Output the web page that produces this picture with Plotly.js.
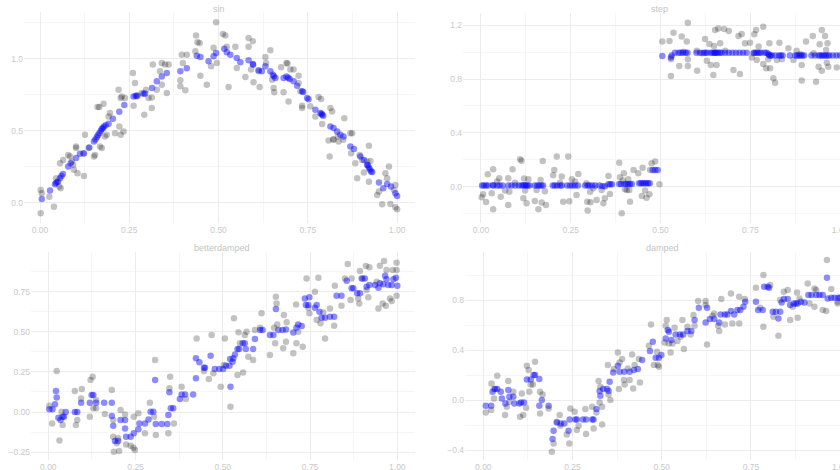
<!DOCTYPE html>
<html>
<head>
<meta charset="utf-8">
<script src="https://cdn.plot.ly/plotly-3.0.1.min.js"></script>
<style>
html,body{margin:0;padding:0;overflow:hidden;background:#fff;}
#chart{width:880px;height:470px;}
</style>
</head>
<body>
<div id="chart"></div>
<script>
// ---- panel titles ----
const panelTitles = ["sin", "step", "betterdamped", "damped"];

// ---- sin ----
const sinX = [.002,.002,.005,.026,.039,.045,.051,.054,.058,.056,.065,.079,.084,.089,.093,.095,.101,.101,.105,.121,.123,.126,.136,.151,.154,.161,.166,.168,.173,.178,.182,.187,.192,.196,.210,.220,.222,.226,.234,.226,.229,.238,.260,.262,.266,.271,.285,.292,.297,.304,.313,.313,.316,.327,.336,.341,.341,.350,.355,.360,.393,.393,.397,.400,.407,.411,.435,.437,.441,.447,.449,.467,.479,.486,.493,.495,.512,.519,.523,.528,.547,.551,.575,.584,.584,.591,.596,.598,.612,.615,.631,.633,.645,.650,.654,.656,.675,.682,.690,.693,.696,.701,.710,.724,.724,.729,.734,.734,.757,.771,.780,.787,.790,.808,.811,.813,.818,.821,.822,.834,.836,.849,.852,.869,.871,.874,.883,.888,.895,.902,.907,.916,.921,.921,.925,.944,.949,.958,.967,.972,.977,.981,.991,.995,.995,1.0];
const sinY = [.090,-.072,.067,.044,-.026,.172,.148,.114,.102,.276,.299,.334,.323,.288,.265,.230,.381,.392,.206,.346,.188,.473,.381,.323,.334,.666,.666,.392,.381,.689,.462,.473,.601,.624,.485,.787,.531,.473,.497,.729,.740,.729,.903,.675,.833,.740,.763,.613,.787,.729,.733,.659,.961,.787,.914,.972,.821,.961,.763,.961,.810,.852,1.030,.972,.782,1.030,1.053,1.162,1.116,1.111,.884,.821,.949,1.077,1.255,.972,1.174,1.162,1.084,.805,1.084,.937,.875,1.146,1.084,.926,1.123,.838,.914,.805,1.014,.972,1.060,.856,.798,.768,.942,.768,.972,.968,.705,.926,.926,.884,.833,.775,.675,.659,.671,.601,.736,.722,.548,.434,.323,.659,.636,.443,.439,.462,.427,.439,.589,.485,.346,.485,.276,.172,.334,.299,.211,.288,.148,.397,.292,.056,.079,-.009,.206,.172,.253,-.007,.090,.125,-.030,-.044];
const sinFitX = [.005,.028,.042,.045,.049,.056,.060,.064,.079,.086,.101,.112,.123,.138,.151,.155,.159,.162,.166,.170,.173,.176,.179,.184,.192,.204,.222,.236,.262,.268,.273,.290,.294,.314,.327,.341,.355,.393,.411,.439,.449,.472,.486,.493,.516,.523,.533,.551,.561,.584,.596,.597,.612,.621,.631,.645,.652,.655,.659,.682,.690,.695,.699,.710,.720,.734,.737,.748,.752,.771,.785,.788,.790,.793,.813,.822,.832,.841,.850,.869,.879,.897,.907,.916,.918,.921,.924,.927,.930,.949,.961,.972,.983,.995,1.0];
const sinFitY = [.028,.086,.130,.138,.148,.172,.187,.202,.253,.276,.313,.341,.343,.385,.427,.44,.457,.47,.485,.50,.513,.52,.531,.54,.550,.585,.633,.680,.740,.745,.747,.759,.76,.798,.845,.879,.903,.914,.935,1.023,1.014,.984,1.019,1.042,1.070,1.046,1.030,1.007,.977,.991,.965,.96,.921,.914,.949,.914,.891,.88,.868,.868,.879,.87,.861,.845,.814,.775,.77,.729,.72,.647,.624,.62,.613,.605,.531,.520,.497,.473,.462,.392,.374,.323,.299,.265,.26,.245,.232,.218,.215,.142,.102,.132,.114,.067,.049];

// ---- step ----
const stepX = [.002,.006,.014,.019,.030,.034,.034,.045,.051,.055,.067,.076,.076,.079,.088,.095,.109,.113,.118,.120,.123,.127,.132,.150,.155,.160,.166,.169,.172,.181,.178,.201,.204,.211,.220,.225,.229,.243,.246,.253,.262,.266,.271,.294,.296,.297,.304,.305,.313,.322,.336,.341,.345,.355,.359,.385,.387,.395,.398,.401,.392,.406,.410,.413,.415,.425,.438,.448,.450,.457,.461,.469,.471,.475,.485,.497,
  .505,.525,.529,.529,.536,.552,.559,.564,.573,.576,.576,.576,.601,.602,.615,.624,.629,.636,.640,.647,.649,.652,.656,.661,.666,.677,.680,.690,.703,.717,.721,.726,.735,.749,.754,.759,.761,.766,.768,.773,.786,.786,.794,.800,.803,.805,.814,.819,.824,.831,.838,.856,.870,.879,.889,.893,.893,.905,.924,.926,.933,.940,.943,.949,.949,.958,.961,.965,.963,.967,.991];
const stepY = [-.077,-.054,-.111,.094,-.047,.131,-.165,.040,.064,-.072,-.027,.064,-.133,-.035,.131,.032,.205,.195,-.084,.062,-.027,-.121,.057,-.104,-.022,-.165,.052,-.116,.193,-.133,-.032,.086,.126,.225,.032,.077,-.109,.225,-.106,.057,.040,-.059,.096,.027,-.109,-.175,-.035,-.114,-.010,-.096,-.022,-.121,-.084,.081,-.052,.180,.072,.047,.101,-.017,-.195,-.022,.057,-.022,-.109,.126,.101,-.067,.143,-.027,-.079,-.054,.126,.175,.188,.020,
  1.077,1.081,.946,.822,1.143,.896,1.114,1.002,1.077,.946,1.217,.896,1.010,.862,.990,1.096,.936,1.059,.904,.830,1.044,1.163,.904,1.175,1.064,1.170,1.010,1.156,.867,1.119,.837,1.133,1.064,1.069,.960,.990,1.131,1.163,.941,1.040,1.188,.911,.879,.946,1.064,.879,.805,.773,.941,1.069,.946,1.027,.941,1.010,.985,.904,.788,1.077,1.119,.990,.780,.891,1.057,1.163,.862,1.119,1.015,1.064,.921,.891,.886];
const stepFitX = [.003,.008,.014,.020,.033,.035,.045,.052,.060,.076,.085,.095,.105,.113,.118,.122,.126,.130,.135,.150,.157,.162,.168,.173,.200,.205,.212,.220,.225,.240,.248,.255,.262,.270,.290,.297,.302,.310,.318,.330,.338,.345,
  .355,.360,.365,.385,.390,.400,.405,.410,.415,.420,.440,.445,.450,.455,.460,.465,.470,.478,.485,.492,
  .505,.529,.531,.540,.550,.556,.562,.570,.575,.600,.610,.620,.625,.630,.640,.645,.650,.652,.655,.660,.665,.670,.680,.690,.700,.710,.720,.730,.740,.760,.765,.770,.775,.780,.790,.795,
  .800,.803,.806,.810,.820,.830,.835,.840,.860,.875,.880,.885,.890,.895,.900,.920,.930,.940,.945,.950,.955,.960,.965,.970,.980,.990,1.0];
const stepFitY = [.01,.01,.01,.01,.012,.01,.01,.01,.01,.01,.01,.01,.01,.01,.012,.012,.01,.01,.01,.01,.01,.01,.01,.01,.01,.01,.01,.01,.01,.01,.01,.01,.01,.01,.01,.01,.01,.01,.01,.01,.005,.005,
  .02,.02,.02,.022,.022,.022,.022,.022,.022,.022,.027,.027,.027,.027,.027,.027,.027,.125,.125,.125,
  .97,.96,.975,.995,.995,.995,.995,.995,.995,.995,.995,.995,.995,.995,.995,.995,.995,.995,.995,.995,.995,.995,.995,.995,.995,.995,.995,.995,.995,.995,.995,.995,.995,.995,.995,.995,
  .985,.975,.975,.975,.975,.975,.975,.975,.975,.975,.975,.975,.975,.975,.975,.975,.975,.975,.975,.975,.975,.975,.975,.975,.975,.975,.975];

// ---- betterdamped ----
const bdX = [.003,.011,.024,.032,.038,.041,.076,.079,.083,.094,.096,.119,.121,.127,.129,.137,.137,.162,.182,.186,.186,.188,.196,.200,.203,.207,.220,.223,.236,.244,.245,.248,.258,.277,.291,.303,.306,.308,.344,.347,.349,.360,.382,.394,.425,.446,.460,.468,.473,.494,.503,.506,.522,.532,.542,.545,.549,.558,.563,.568,.573,.587,.592,.607,.611,.635,.647,.650,.652,.654,.656,.673,.675,.681,.683,.702,.710,.711,.716,.729,.740,.745,.748,.764,.769,.774,.780,.788,.793,.807,.819,.821,.840,.850,.858,.866,.869,.888,.891,.893,.901,.910,.912,.917,.920,.941,.946,.950,.958,.962,.967,.969,.979,.984,.987,.998,.998,.998];
const bdY = [.039,-.071,.256,-.177,.002,-.081,.131,-.081,-.050,.085,.143,-.029,.199,.220,.023,.023,.075,-.012,.137,-.050,-.154,-.247,-.195,-.164,-.243,.012,-.015,-.202,-.210,-.222,-.029,-.237,-.008,-.133,.058,-.029,.324,-.143,-.133,.148,.220,-.071,.158,.081,.459,.256,.206,.480,.241,.158,.293,.459,.033,.584,.231,.497,.428,.247,.480,.501,.345,.324,.511,.526,.615,.355,.526,.428,.719,.677,.546,.397,.605,.438,.559,.366,.671,.428,.501,.407,.833,.650,.615,.750,.573,.837,.553,.621,.459,.646,.538,.787,.663,.833,.922,.698,.833,.708,.677,.879,.833,.910,.760,.715,.902,.812,.646,.912,.677,.941,.663,.885,.708,.692,.885,.931,.725,.885];
const bdFitX = [.003,.012,.019,.022,.024,.029,.035,.041,.045,.050,.076,.083,.094,.119,.124,.129,.137,.160,.182,.182,.186,.191,.200,.207,.220,.220,.223,.236,.245,.258,.261,.277,.287,.293,.301,.306,.308,.325,.341,.344,.347,.351,.358,.377,.382,.392,.415,.423,.423,.433,.446,.449,.465,.477,.490,.501,.509,.519,.521,.522,.528,.530,.535,.542,.547,.557,.563,.566,.587,.592,.607,.614,.635,.645,.652,.659,.671,.681,.702,.711,.716,.726,.735,.738,.745,.748,.764,.769,.777,.783,.793,.807,.819,.826,.840,.855,.869,.874,.885,.893,.898,.907,.912,.920,.936,.946,.950,.960,.965,.969,.974,.984,.989,.996,1.0];
const bdFitY = [.017,.017,.048,.131,.091,-.035,-.050,-.029,-.029,.000,.000,.000,.058,.058,.106,.106,.058,.058,.058,-.025,-.085,-.181,-.181,-.050,-.050,-.102,-.154,-.154,-.133,-.108,-.071,-.071,-.046,.002,.002,.199,-.075,-.075,-.075,-.019,.123,.023,.023,.081,.110,.110,.110,.210,.335,.310,.276,.276,.351,.268,.268,.268,.289,.289,.330,.158,.314,.335,.359,.393,.393,.428,.428,.393,.393,.455,.511,.511,.480,.480,.642,.511,.511,.515,.495,.526,.546,.536,.708,.667,.667,.715,.650,.667,.625,.588,.588,.594,.594,.725,.725,.819,.771,.771,.740,.740,.833,.833,.781,.792,.792,.775,.802,.796,.850,.827,.792,.792,.827,.837,.787];

// ---- damped ----
const dX = [.007,.022,.023,.030,.030,.039,.061,.066,.070,.073,.084,.103,.108,.112,.120,.122,.127,.129,.133,.139,.145,.159,.159,.166,.183,.192,.197,.206,.214,.216,.234,.241,.244,.256,.262,.267,.286,.288,.305,.309,.317,.323,.326,.328,.333,.333,.349,.351,.356,.366,.377,.380,.382,.389,.394,.396,.405,.410,.417,.420,.424,.436,.439,.464,.470,.478,.487,.489,.492,.508,.511,.514,.520,.525,.530,.536,.544,.553,.558,.562,.572,.581,.589,.592,.602,.623,.623,.627,.642,.647,.658,.661,.667,.677,.694,.698,.717,.717,.733,.764,.776,.785,.785,.804,.813,.827,.832,.842,.853,.860,.867,.879,.881,.886,.909,.914,.928,.928,.933,.951,.961,.963,.975,.993,.993];
const dY = [-.099,-.080,.133,.088,.013,.195,-.120,-.053,.152,-.013,.067,-.133,.053,-.120,-.061,.275,.240,.067,.125,.125,.307,.067,-.107,.045,-.067,-.413,-.347,-.173,-.120,-.205,-.275,-.347,-.067,-.093,-.240,-.205,-.072,-.272,-.053,-.227,-.099,.152,-.019,.107,-.195,-.053,.280,.045,.000,.248,.381,.088,.301,.328,.160,.125,.253,.160,.365,.093,.280,.328,.141,.435,.605,.280,.387,.280,.267,.461,.595,.640,.453,.381,.453,.579,.472,.507,.640,.408,.587,.525,.680,.595,.792,.792,.760,.445,.675,.693,.595,.552,.808,.605,.853,.613,.827,.613,.808,.899,.739,.587,1.000,.920,.667,.515,.800,.867,.880,.640,.747,.861,.659,.813,.933,.773,.747,.893,.880,.720,.712,1.120,.888,.787,.773];
const dFitX = [.007,.022,.026,.033,.039,.049,.052,.062,.070,.073,.084,.087,.101,.106,.114,.122,.133,.141,.145,.157,.157,.164,.183,.194,.197,.206,.217,.227,.239,.242,.258,.262,.279,.288,.305,.309,.317,.326,.328,.336,.347,.351,.354,.364,.377,.382,.395,.410,.422,.433,.445,.467,.475,.483,.492,.499,.511,.517,.520,.527,.539,.551,.560,.572,.583,.592,.604,.623,.627,.635,.647,.661,.665,.677,.684,.694,.703,.712,.720,.729,.734,.764,.770,.783,.787,.797,.801,.811,.820,.827,.832,.836,.842,.853,.860,.870,.876,.881,.890,.900,.911,.920,.933,.942,.951,.963,.965,.975,.984,.995,1.0];
const dFitY = [-.045,-.045,.067,.088,.088,.067,.013,-.027,.080,.027,.027,-.027,-.027,-.019,-.019,.165,.165,.200,.200,.168,-.045,.000,-.045,-.312,-.245,-.179,-.187,-.187,-.245,-.155,-.155,-.155,-.155,-.155,-.155,-.155,-.072,.072,.035,.088,.088,.072,.147,.221,.275,.227,.227,.227,.240,.248,.320,.392,.467,.339,.339,.360,.493,.560,.547,.480,.525,.525,.525,.552,.552,.640,.739,.621,.739,.648,.648,.621,.685,.685,.685,.712,.685,.720,.720,.747,.787,.787,.720,.720,.907,.907,.899,.707,.707,.653,.707,.781,.808,.808,.760,.773,.773,.773,.787,.781,.840,.840,.840,.840,.840,.979,.813,.819,.819,.819,.819];

// ---- figure ----
const W = 880, H = 470;
const FONT = "Liberation Sans, Arial, Helvetica, sans-serif";
const grayMarker = {size: 6.5, color: "rgba(0,0,0,0.24)", line: {width: 0}};
const blueMarker = {size: 6.5, color: "rgba(0,0,255,0.45)", line: {width: 0}};

const panels = [
  {x: sinX, y: sinY, fx: sinFitX, fy: sinFitY},
  {x: stepX, y: stepY, fx: stepFitX, fy: stepFitY},
  {x: bdX, y: bdY, fx: bdFitX, fy: bdFitY},
  {x: dX, y: dY, fx: dFitX, fy: dFitY}
];

const traces = [];
panels.forEach((p, i) => {
  const xa = i === 0 ? "x" : "x" + (i + 1);
  const ya = i === 0 ? "y" : "y" + (i + 1);
  traces.push({type: "scatter", mode: "markers", x: p.x, y: p.y, xaxis: xa, yaxis: ya,
    marker: grayMarker, hoverinfo: "skip", showlegend: false});
  traces.push({type: "scatter", mode: "markers", x: p.fx, y: p.fy, xaxis: xa, yaxis: ya,
    marker: blueMarker, hoverinfo: "skip", showlegend: false});
});

function axis(pxFrom, pxTo, total, range, dtick, fmt, anchor, isY) {
  const dom = isY ? [(total - pxTo) / total, (total - pxFrom) / total] : [pxFrom / total, pxTo / total];
  return {
    domain: dom, range: range, autorange: false, anchor: anchor,
    tickmode: "linear", tick0: 0, dtick: dtick, tickformat: fmt,
    showgrid: true, gridcolor: "#ececec", gridwidth: 1,
    minor: {dtick: dtick / 2, tick0: 0, showgrid: true, gridcolor: "#f6f6f6", gridwidth: 1, ticks: ""},
    zeroline: false, showline: false, ticks: "",
    tickfont: {family: FONT, size: 8.5, color: "#c9c9c9"},
    fixedrange: true
  };
}

const layout = {
  width: W, height: H,
  margin: {l: 0, r: 0, t: 0, b: 0},
  paper_bgcolor: "#ffffff", plot_bgcolor: "#ffffff",
  showlegend: false,
  xaxis:  axis(24, 415, W, [-0.0448, 1.050], 0.25, ".2f", "y", false),
  yaxis:  axis(12, 223, H, [-0.139, 1.326], 0.5, ".1f", "x", true),
  xaxis2: axis(463, 857, W, [-0.050, 1.047], 0.25, ".2f", "y2", false),
  yaxis2: axis(13, 223, H, [-0.267, 1.289], 0.4, ".1f", "x2", true),
  xaxis3: axis(31, 415, W, [-0.0496, 1.0507], 0.25, ".2f", "y3", false),
  yaxis3: axis(252, 460, H, [-0.299, 0.9975], 0.25, ".2f", "x3", true),
  xaxis4: axis(465, 858, W, [-0.0513, 1.050], 0.25, ".2f", "y4", false),
  yaxis4: axis(252, 460, H, [-0.48, 1.184], 0.4, ".1f", "x4", true),
  annotations: [
    [219, 9], [659, 9], [222, 248], [662, 248]
  ].map((pos, i) => ({
    text: panelTitles[i], xref: "paper", yref: "paper",
    x: pos[0] / W, y: (H - pos[1]) / H, xanchor: "center", yanchor: "middle",
    showarrow: false, font: {family: FONT, size: 9, color: "#c4c4c4"}
  }))
};

Plotly.newPlot("chart", traces, layout, {displayModeBar: false, staticPlot: true});
</script>
</body>
</html>
